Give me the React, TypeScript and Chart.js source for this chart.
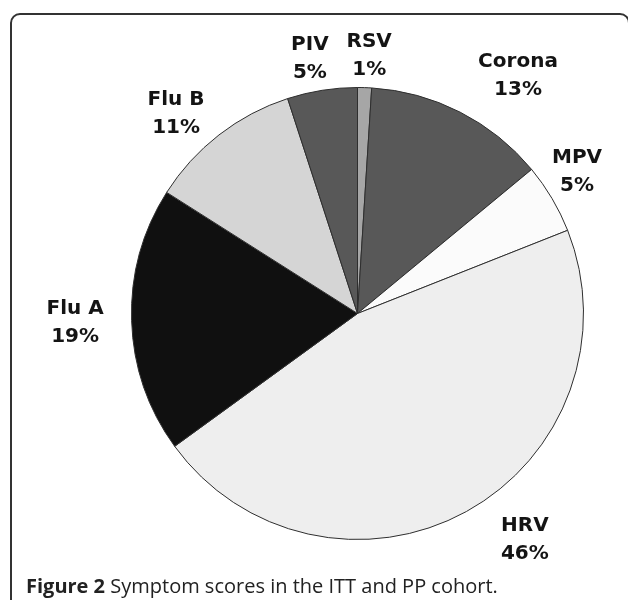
import React, { useEffect, useRef } from "react";
import { Chart, registerables } from "chart.js";

Chart.register(...registerables);

// ---- data ----
const categories: string[] = ["RSV", "Corona", "MPV", "HRV", "Flu A", "Flu B", "PIV"];
const percentages: number[] = [1, 13, 5, 46, 19, 11, 5];
const sliceColors: string[] = ["#a6a6a6", "#585858", "#fbfbfb", "#eeeeee", "#101010", "#d5d5d5", "#585858"];
// label placement: angle (deg, clockwise from 12 o'clock) and distance from centre in radii
const labelAngles: number[] = [2.6, 34, 57.1, 143.5, 268.2, 317.8, 349.4];
const labelDistances: number[] = [1.141, 1.27, 1.157, 1.245, 1.25, 1.195, 1.146];
const captionBold = "Figure 2";
const captionText = " Symptom scores in the ITT and PP cohort.";

const labelPlugin = {
  id: "outsideLabels",
  afterDraw(chart: any) {
    const meta = chart.getDatasetMeta(0);
    if (!meta || !meta.data.length) return;
    const arc: any = meta.data[0];
    const cx = arc.x;
    const cy = arc.y;
    const r = arc.outerRadius;
    const ctx = chart.ctx;
    ctx.save();
    ctx.fillStyle = "#141414";
    ctx.font = "bold 20px 'DejaVu Sans'";
    ctx.textAlign = "center";
    ctx.textBaseline = "middle";
    categories.forEach((name, i) => {
      const a = (labelAngles[i] * Math.PI) / 180;
      const d = labelDistances[i] * r;
      const x = cx + Math.sin(a) * d;
      const y = cy - Math.cos(a) * d;
      ctx.fillText(name, x, y - 14);
      ctx.fillText(percentages[i] + "%", x, y + 14);
    });
    ctx.restore();
  },
};

export default function App() {
  const canvasRef = useRef<HTMLCanvasElement | null>(null);

  useEffect(() => {
    if (!canvasRef.current) return;
    const chart = new Chart(canvasRef.current, {
      type: "pie",
      data: {
        labels: categories,
        datasets: [
          {
            data: percentages,
            backgroundColor: sliceColors,
            borderColor: "#2e2e2e",
            borderWidth: 1,
          },
        ],
      },
      options: {
        responsive: false,
        animation: false,
        events: [],
        layout: { padding: { left: 131, right: 44, top: 87, bottom: 60 } },
        plugins: {
          legend: { display: false },
          tooltip: { enabled: false },
        },
      },
      plugins: [labelPlugin],
    });
    return () => chart.destroy();
  }, []);

  return (
    <div
      style={{
        position: "fixed",
        left: 0,
        top: 0,
        width: 628,
        height: 600,
        overflow: "hidden",
        background: "#ffffff",
      }}
    >
      <div
        style={{
          position: "absolute",
          left: 10,
          top: 13,
          width: 620,
          height: 700,
          border: "2px solid #333333",
          borderRadius: 10,
          boxSizing: "border-box",
        }}
      />
      <canvas
        ref={canvasRef}
        width={628}
        height={600}
        style={{ position: "absolute", left: 0, top: 0, display: "block" }}
      />
      <div
        style={{
          position: "absolute",
          left: 26,
          top: 574,
          fontFamily: "'Open Sans', sans-serif",
          fontSize: 20,
          lineHeight: "24px",
          color: "#222222",
          whiteSpace: "nowrap",
        }}
      >
        <span style={{ fontWeight: 700 }}>{captionBold}</span>
        {captionText}
      </div>
    </div>
  );
}
